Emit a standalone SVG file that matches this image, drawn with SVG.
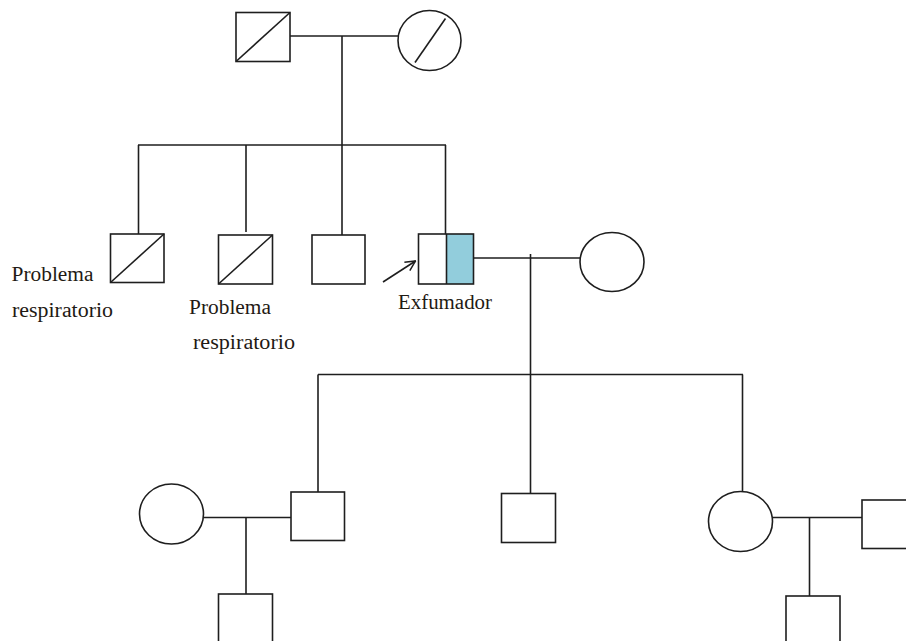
<svg xmlns="http://www.w3.org/2000/svg" width="906" height="641" viewBox="0 0 906 641">
  <style>
    .ln { stroke: #1e1e1e; stroke-width: 1.6; fill: none; }
    .sym { stroke: #1e1e1e; stroke-width: 1.6; fill: #ffffff; }
    .lbl { font-family: "Liberation Serif", "DejaVu Serif", serif; font-size: 20px; fill: #1f1a14; }
  </style>
  <defs>
    <marker id="openArrow" viewBox="0 0 12 12" refX="11" refY="6" markerWidth="12" markerHeight="12" markerUnits="userSpaceOnUse" orient="auto">
      <path d="M1,1 L11,6 L1,11" fill="none" stroke="#1e1e1e" stroke-width="1.5"/>
    </marker>
  </defs>

  <rect width="906" height="641" fill="#ffffff"/>

  <!-- connectors -->
  <g id="connectors">
    <!-- generation I couple and descent -->
    <line class="ln" x1="290" y1="36" x2="398" y2="36"/>
    <line class="ln" x1="342" y1="36" x2="342" y2="235"/>
    <line class="ln" x1="138" y1="145" x2="446" y2="145"/>
    <line class="ln" x1="138.5" y1="145" x2="138.5" y2="234"/>
    <line class="ln" x1="246" y1="145" x2="246" y2="232"/>
    <line class="ln" x1="445.5" y1="145" x2="445.5" y2="234"/>
    <!-- generation II couple and descent -->
    <line class="ln" x1="473" y1="258" x2="580" y2="258"/>
    <line class="ln" x1="530.5" y1="254" x2="530.5" y2="493"/>
    <line class="ln" x1="318" y1="374.5" x2="743" y2="374.5"/>
    <line class="ln" x1="318" y1="374.5" x2="318" y2="492"/>
    <line class="ln" x1="742.5" y1="374.5" x2="742.5" y2="492"/>
    <!-- generation III couples and descent -->
    <line class="ln" x1="203" y1="517.5" x2="291" y2="517.5"/>
    <line class="ln" x1="246" y1="517.5" x2="246" y2="594"/>
    <line class="ln" x1="772" y1="517.5" x2="862" y2="517.5"/>
    <line class="ln" x1="809.5" y1="517.5" x2="809.5" y2="596"/>
    <!-- proband arrow -->
    <line class="ln" x1="383" y1="282" x2="415.5" y2="261" marker-end="url(#openArrow)"/>
  </g>

  <!-- generation I -->
  <g id="grandfather">
    <rect class="sym" x="236" y="12.5" width="54" height="49"/>
    <line class="ln" x1="236" y1="61.5" x2="290" y2="12.5"/>
  </g>
  <g id="grandmother">
    <ellipse class="sym" cx="429.5" cy="40.5" rx="31.5" ry="30"/>
    <line class="ln" x1="445.5" y1="18.5" x2="415" y2="62.5"/>
  </g>

  <!-- generation II -->
  <g id="uncle1">
    <rect class="sym" x="110.5" y="234" width="53.5" height="48.5"/>
    <line class="ln" x1="110.5" y1="282.5" x2="164" y2="234"/>
    <text class="lbl" x="11.5" y="281" textLength="82" lengthAdjust="spacingAndGlyphs">Problema</text>
    <text class="lbl" x="12" y="317" textLength="101" lengthAdjust="spacingAndGlyphs">respiratorio</text>
  </g>
  <g id="uncle2">
    <rect class="sym" x="218.5" y="235" width="54" height="49"/>
    <line class="ln" x1="218.5" y1="284" x2="272.5" y2="235"/>
    <text class="lbl" x="189" y="314" textLength="82" lengthAdjust="spacingAndGlyphs">Problema</text>
    <text class="lbl" x="193" y="349" textLength="102" lengthAdjust="spacingAndGlyphs">respiratorio</text>
  </g>
  <g id="uncle3">
    <rect class="sym" x="312" y="235" width="53" height="49"/>
  </g>
  <g id="proband">
    <rect x="446.5" y="234" width="27" height="50" fill="#92cddc"/>
    <rect class="ln" x="418.5" y="234" width="55" height="50"/>
    <line class="ln" x1="446.5" y1="234" x2="446.5" y2="284"/>
    <text class="lbl" x="398" y="308.5" textLength="94" lengthAdjust="spacingAndGlyphs">Exfumador</text>
  </g>
  <g id="proband-wife">
    <ellipse class="sym" cx="612" cy="262" rx="32" ry="29.5"/>
  </g>

  <!-- generation III -->
  <g id="son1-wife">
    <ellipse class="sym" cx="171.5" cy="514" rx="32" ry="30"/>
  </g>
  <g id="son1">
    <rect class="sym" x="291" y="492" width="53.5" height="48.5"/>
  </g>
  <g id="son2">
    <rect class="sym" x="501.5" y="493.5" width="54" height="49"/>
  </g>
  <g id="daughter">
    <ellipse class="sym" cx="740.5" cy="521.5" rx="32" ry="30"/>
  </g>
  <g id="daughter-husband">
    <rect class="sym" x="862" y="500" width="54" height="48.5"/>
  </g>

  <!-- generation IV -->
  <g id="grandchild1">
    <rect class="sym" x="218.5" y="594" width="54" height="60"/>
  </g>
  <g id="grandchild2">
    <rect class="sym" x="786" y="596" width="54" height="60"/>
  </g>
</svg>
